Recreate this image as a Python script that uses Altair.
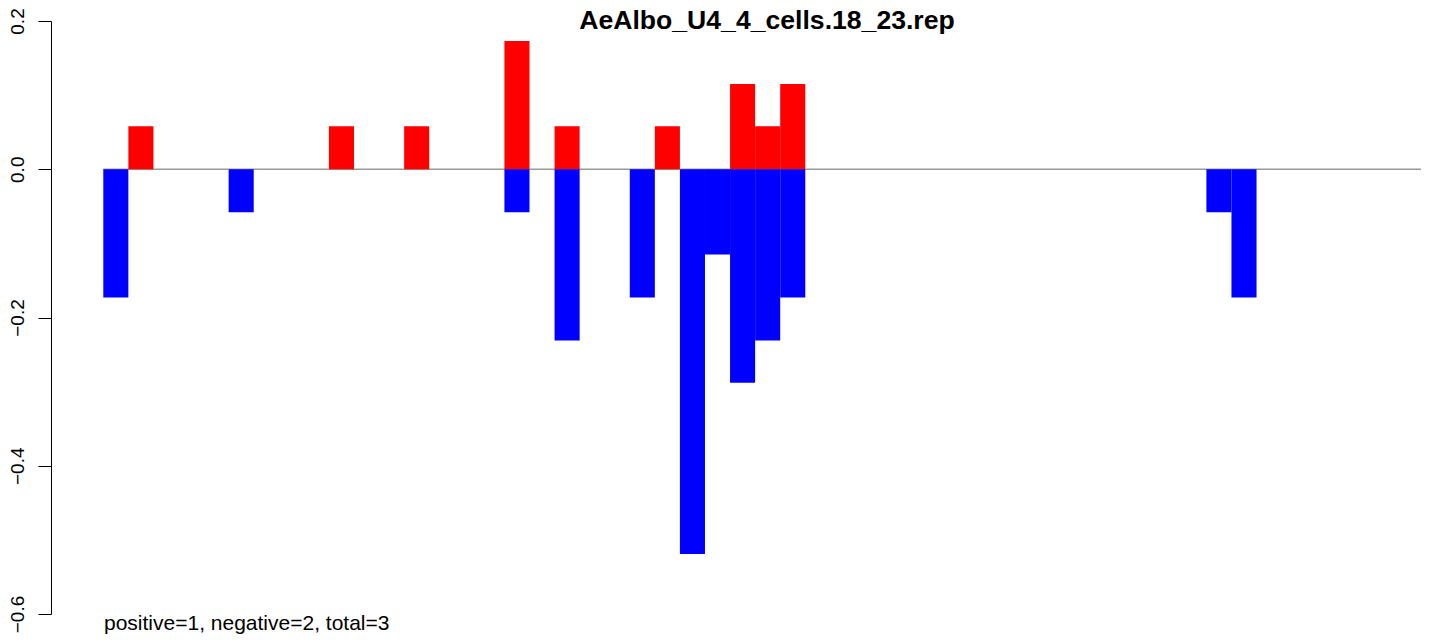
import altair as alt
import pandas as pd

title_text = "AeAlbo_U4_4_cells.18_23.rep"
footer_text = "positive=1, negative=2, total=3"

pos_bins = [1, 9, 12, 16, 18, 22, 25, 26, 27]
pos_vals = [0.058, 0.058, 0.058, 0.173, 0.058, 0.058, 0.115, 0.058, 0.115]
neg_bins = [0, 5, 16, 18, 21, 23, 24, 25, 26, 27, 44, 45]
neg_vals = [-0.173, -0.058, -0.058, -0.231, -0.173, -0.519, -0.115, -0.288, -0.231, -0.173, -0.058, -0.173]
y_ticks = [0.2, 0.0, -0.2, -0.4, -0.6]
n_bins = 53

rows = []
for b, v in zip(pos_bins, pos_vals):
    rows.append({"start": b, "end": b + 1, "value": v, "sign": "positive"})
for b, v in zip(neg_bins, neg_vals):
    rows.append({"start": b, "end": b + 1, "value": v, "sign": "negative"})
bars_df = pd.DataFrame(rows)
bars_df["zero"] = 0.0

line_df = pd.DataFrame({"x0": [0], "x1": [n_bins], "y": [0.0]})

xscale = alt.Scale(domain=[-2.086, 52.56], nice=False, zero=False)
yscale = alt.Scale(domain=[-0.6, 0.2], nice=False, zero=False)

yaxis = alt.Axis(values=y_ticks, format=".1f", title=None, grid=False,
                 domainColor="black", tickColor="black", tickSize=13,
                 labelAngle=270, labelAlign="center", labelBaseline="alphabetic",
                 labelPadding=15, labelFontSize=19, labelFont="Liberation Sans",
                 labelColor="black", labelOverlap=False, labelFlush=False,
                 domainWidth=1, tickWidth=1)

zero_line = alt.Chart(line_df).mark_rule(color="#999999", strokeWidth=1.5).encode(
    x=alt.X("x0:Q", scale=xscale, axis=None),
    x2="x1:Q",
    y=alt.Y("y:Q", scale=yscale, axis=yaxis),
)

bars = alt.Chart(bars_df).mark_rect().encode(
    x=alt.X("start:Q", scale=xscale, axis=None),
    x2="end:Q",
    y=alt.Y("zero:Q", scale=yscale, axis=yaxis),
    y2="value:Q",
    color=alt.Color("sign:N", scale=alt.Scale(domain=["positive", "negative"],
                                              range=["#FF0000", "#0000FF"]), legend=None),
)

title = alt.Chart(pd.DataFrame({"t": [title_text]})).mark_text(
    font="Liberation Sans", fontWeight="bold", fontSize=26.6, align="center",
    baseline="alphabetic", color="black"
).encode(text="t:N", x=alt.value(716), y=alt.value(8))

footer = alt.Chart(pd.DataFrame({"t": [footer_text]})).mark_text(
    font="Liberation Sans", fontSize=21, align="left",
    baseline="alphabetic", color="black"
).encode(text="t:N", x=alt.value(53), y=alt.value(609))

chart = alt.layer(zero_line, bars, title, footer).properties(
    width=1370, height=593,
    background="white",
    autosize=alt.AutoSizeParams(type="none"),
    padding={"left": 43, "top": 13, "right": 0, "bottom": 20},
).configure_view(stroke="transparent", strokeWidth=0).configure_axis(grid=False)

chart.save("out.html", embed_options={"renderer": "svg", "actions": False})
